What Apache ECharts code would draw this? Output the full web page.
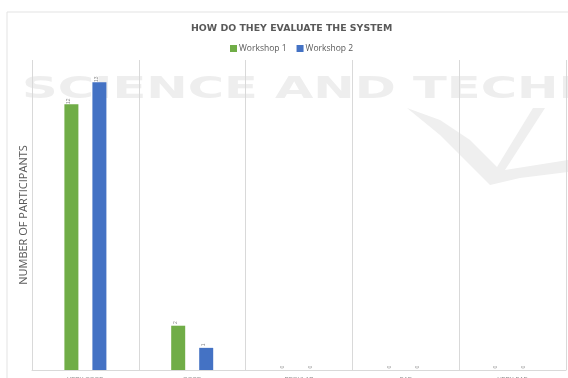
<!DOCTYPE html>
<html><head><meta charset="utf-8">
<script src="https://cdn.jsdelivr.net/npm/echarts@6/dist/echarts.min.js"></script>
<style>html,body{margin:0;padding:0;background:#fff}#c{width:568px;height:378px}</style>
</head><body><div id="c"></div>
<script>
const categories = ['VERY GOOD', 'GOOD', 'REGULAR', 'BAD', 'VERY BAD'];
const workshop1 = [12, 2, 0, 0, 0];
const workshop2 = [13, 1, 0, 0, 0];
const seriesNames = ['Workshop 1', 'Workshop 2'];
const chartTitle = 'HOW DO THEY EVALUATE THE SYSTEM';
const yAxisName = 'NUMBER OF PARTICIPANTS';

const chart = echarts.init(document.getElementById('c'), null, {renderer: 'canvas'});
const labelStyle = {
  show: true, position: 'top', rotate: 90, distance: 3,
  fontSize: 5, color: '#8c8c8c', fontFamily: 'Liberation Sans'
};
chart.setOption({
  animation: false,
  backgroundColor: '#fff',
  graphic: [
    {type: 'rect', z: -10, shape: {x: 7, y: 12, width: 600, height: 400},
     style: {fill: 'none', stroke: '#e3e3e3', lineWidth: 1}},
    {type: 'text', z: -5, x: 22, y: 75, scaleX: 1.65,
     style: {text: 'SCIENCE AND TECHNOLOGY', fontSize: 30, fontWeight: 'bold', fontFamily: 'DejaVu Sans',
             fill: '#eeeeee', textVerticalAlign: 'top'}},
    {type: 'polygon', z: -5,
     shape: {points: [[407,108],[440,120],[470,140],[497,167],[533,108],[545,108],[505,170],
                      [568,160],[568,172],[520,178],[490,185],[465,160],[440,135]]},
     style: {fill: '#efefef'}}
  ],
  title: {
    text: chartTitle, left: 186, top: 19,
    textStyle: {fontSize: 9.4, fontWeight: 'bold', color: '#595959', fontFamily: 'DejaVu Sans'}
  },
  legend: {
    top: 39, left: 225, itemWidth: 7, itemHeight: 7, itemGap: 10,
    icon: 'rect',
    textStyle: {fontSize: 8.5, color: '#595959', fontFamily: 'Open Sans', padding: [0, 0, 0, -3]},
    data: seriesNames
  },
  grid: {left: 32, right: 2, top: 60, bottom: 8, containLabel: false, outerBoundsMode: 'none'},
  xAxis: {
    type: 'category', data: categories,
    axisLine: {lineStyle: {color: '#d9d9d9'}},
    axisTick: {show: false},
    splitLine: {show: true, lineStyle: {color: '#d9d9d9'}},
    axisLabel: {fontSize: 6, color: '#8c8c8c', margin: 6, fontFamily: 'Liberation Sans'}
  },
  yAxis: {
    type: 'value', min: 0, max: 14,
    name: yAxisName, nameLocation: 'middle', nameGap: 3, nameRotate: 90,
    nameTextStyle: {fontSize: 11, color: '#595959', fontFamily: 'Open Sans'},
    axisLine: {show: false}, axisTick: {show: false}, axisLabel: {show: false},
    splitLine: {show: false}
  },
  series: [
    {name: seriesNames[0], type: 'bar', data: workshop1, barWidth: 14, barGap: '100%',
     itemStyle: {color: '#70ad47'}, label: labelStyle},
    {name: seriesNames[1], type: 'bar', data: workshop2, barWidth: 14,
     itemStyle: {color: '#4472c4'}, label: labelStyle}
  ]
});
</script></body></html>
